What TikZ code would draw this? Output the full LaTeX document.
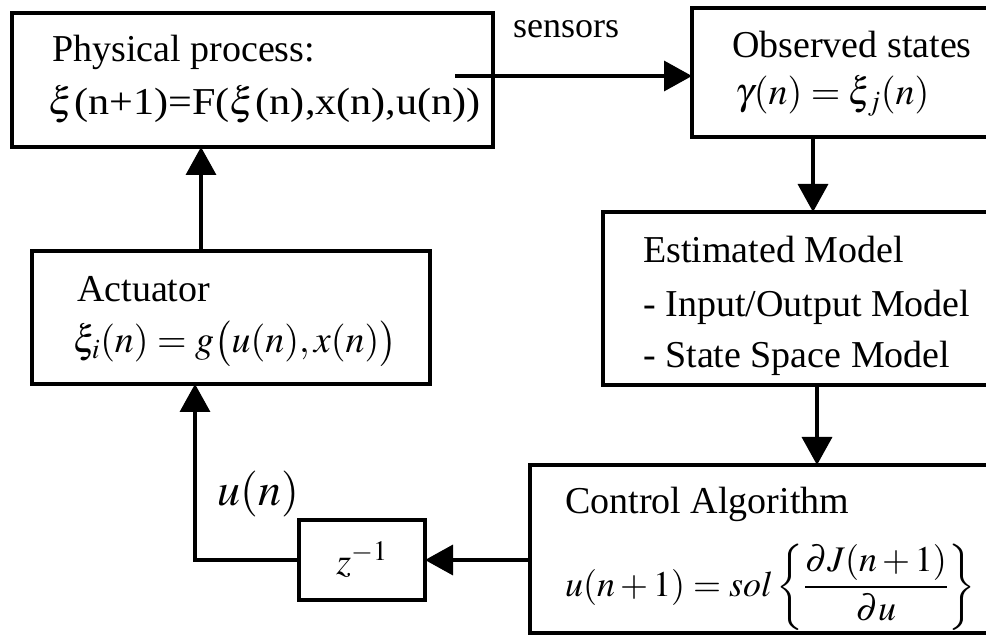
\documentclass[tikz,border=0pt]{standalone}
\usepackage{mathptmx}
\usepackage[no-math]{fontspec}
\setmainfont{Liberation Serif}
\usetikzlibrary{arrows.meta}
\begin{document}
\begin{tikzpicture}[x=1pt,y=-1pt,
  box/.style={draw,line width=3.5pt,inner sep=0pt,outer sep=0pt,anchor=north west},
  lbl/.style={anchor=base west,inner sep=0pt,font=\fontsize{38}{44}\selectfont},
  conn/.style={line width=3.5pt,line join=miter,-{Triangle[width=30pt,length=28pt]}}]
\clip (0,0) rectangle (986,636);
\fill[white] (0,0) rectangle (986,636);
% boxes
\node[box,minimum width=481pt,minimum height=134pt] (proc) at (12,13) {};
\node[box,minimum width=318pt,minimum height=129pt] (obs) at (692,8) {};
\node[box,minimum width=407pt,minimum height=173pt] (est) at (603,212) {};
\node[box,minimum width=480pt,minimum height=168pt] (ctrl) at (530,465) {};
\node[box,minimum width=398pt,minimum height=133pt] (act) at (32,251) {};
\node[box,minimum width=126pt,minimum height=80pt] (zbox) at (299,520) {};
% texts
\node[lbl] (t1) at (52,62) {Physical process:};
\node[lbl] (t2) at (48,115) {\scalebox{1.11}[1]{$\xi$(n+1)=F($\xi$(n),x(n),u(n))}};
\node[lbl,font=\fontsize{36}{42}\selectfont] (sens) at (513,38) {sensors};
\node[lbl] (t3) at (732,58) {Observed states};
\node[lbl] (t4) at (735,105) {$\gamma(n)=\xi_j(n)$};
\node[lbl] (t5) at (643,263) {Estimated Model};
\node[lbl] (t6) at (643,317) {- Input/Output Model};
\node[lbl] (t7) at (643,368) {- State Space Model};
\node[lbl] (t8) at (77,302) {Actuator};
\node[lbl] (t9) at (73,353) {$\xi_i(n)=g\bigl(u(n),x(n)\bigr)$};
\node[lbl,font=\fontsize{46}{52}\selectfont] (un) at (217,505) {$u(n)$};
\node[inner sep=0pt,font=\fontsize{38}{44}\selectfont] (zt) at (zbox.center) {$z^{-1}$};
\node[lbl] (t10) at (565,513) {Control Algorithm};
\node[anchor=west,inner sep=0pt,font=\fontsize{36}{42}\selectfont] (t11) at (565,587) {$u(n+1)=sol\left\{\displaystyle\frac{\partial J(n+1)}{\partial u}\right\}$};
% connectors
\coordinate (s0) at (455,76);
\draw[conn] (s0) -- (s0 -| obs.west);
\draw[conn] ([xshift=121pt]obs.south west) -- ([xshift=210pt]est.north west);
\draw[conn] ([xshift=214pt]est.south west) -- ([xshift=287pt]ctrl.north west);
\draw[conn] (ctrl.west |- zbox.east) -- (zbox.east);
\draw[conn] (zbox.west) -| ([xshift=163pt]act.south west);
\draw[conn] ([xshift=169pt]act.north west) -- ([xshift=189pt]proc.south west);
\end{tikzpicture}
\end{document}
